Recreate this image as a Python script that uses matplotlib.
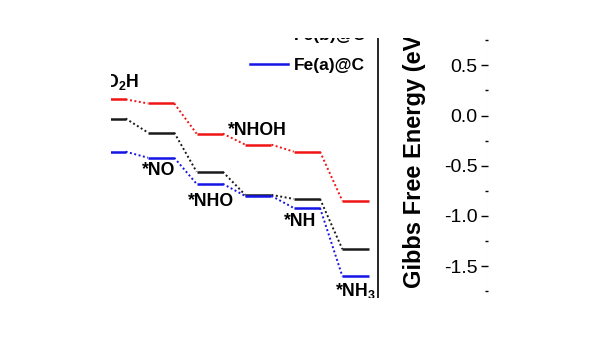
import matplotlib
matplotlib.use('Agg')
import matplotlib.pyplot as plt
import numpy as np
from matplotlib.transforms import Bbox, TransformedBbox
from matplotlib.ticker import MultipleLocator
from matplotlib.lines import Line2D

# ---- data ----
steps = ['*NO$_2$H', '*NO', '*NHO', '*NHOH', '*NH', '*NH$_3$']
series_names = ['Fe(c)@C', 'Fe(b)@C', 'Fe(a)@C']
red_vals = [0.16, 0.12, -0.18, -0.29, -0.36, -0.85]
black_vals = [-0.03, -0.17, -0.56, -0.79, -0.83, -1.33]
blue_vals = [-0.36, -0.42, -0.68, -0.80, -0.92, -1.60]
yticks = [0.5, 0.0, -0.5, -1.0, -1.5]

# ---- layout / style ----
label_x = [0.0, 0.94, 2.03, 2.98, 3.86, 5.01]
label_y = [0.333, -0.552, -0.856, -0.149, -1.05, -1.746]
colors = ['#f01414', '#1a1a1a', '#1414e6']
half_w = 0.27

plt.rcParams['font.family'] = ['Liberation Sans', 'DejaVu Sans']
plt.rcParams['axes.unicode_minus'] = False
plt.rcParams['mathtext.fontset'] = 'custom'
plt.rcParams['mathtext.rm'] = 'Liberation Sans:bold'
plt.rcParams['mathtext.default'] = 'rm'

W, H = 600, 338
fig = plt.figure(figsize=(6, 3.38), dpi=100)

def fx(px):
    return px / W

def fy(py):
    return 1 - py / H

top_px, bot_px = 20, 315
ylim = ((115.5 - bot_px) / 100.5, (115.5 - top_px) / 100.5)

# left panel (mostly cropped)
ax = fig.add_axes([0, fy(bot_px), fx(378), (bot_px - top_px) / H])
ax.set_xlim((0 - 112.5) / 48.6, (378 - 112.5) / 48.6)
ax.set_ylim(*ylim)
ax.set_xticks([])
ax.set_yticks([])
for s in ['left', 'top', 'bottom']:
    ax.spines[s].set_visible(False)
ax.spines['right'].set_linewidth(1.2)

handles = []
for vals, c, name in zip([red_vals, black_vals, blue_vals], colors, series_names):
    x = np.arange(len(vals))
    for i, v in enumerate(vals):
        ax.plot([x[i] - half_w, x[i] + half_w], [v, v], color=c, lw=1.8,
                solid_capstyle='butt')
        if i < len(vals) - 1:
            ax.plot([x[i] + half_w, x[i + 1] - half_w], [v, vals[i + 1]],
                    color=c, lw=1.4, linestyle=(0, (1, 1.3)))
    handles.append(Line2D([], [], color=c, lw=1.8, label=name))

for lab, lx, ly in zip(steps, label_x, label_y):
    ax.text(lx, ly, lab, ha='center', va='center', fontsize=12.7,
            fontweight='bold')

leg = fig.legend(handles=handles, loc='lower left',
                 bbox_to_anchor=(fx(250), fy(73)), frameon=False,
                 prop={'weight': 'bold', 'size': 12.5}, handlelength=2.2,
                 handletextpad=0.3, labelspacing=0.88, borderpad=0,
                 borderaxespad=0)

# right panel (only its y axis visible)
ax2 = fig.add_axes([fx(487.5), fy(bot_px), 0.3, (bot_px - top_px) / H])
ax2.set_ylim(*ylim)
ax2.set_xticks([])
for s in ['right', 'top', 'bottom']:
    ax2.spines[s].set_visible(False)
ax2.spines['left'].set_color('#e4e4e4')
ax2.yaxis.set_major_locator(MultipleLocator(0.5))
ax2.yaxis.set_minor_locator(MultipleLocator(0.25))
ax2.tick_params(axis='y', which='major', length=5, width=1, pad=2,
                labelsize=14, color='black')
ax2.tick_params(axis='y', which='minor', length=2.5, width=1, color='black')
ax2.set_ylabel('Gibbs Free Energy (eV)', fontsize=17, fontweight='bold')
ax2.yaxis.label.set_verticalalignment('center')
ax2.yaxis.set_label_coords((415 - 487.5) / 180, (bot_px - 157) / (bot_px - top_px))

# crop everything to the visible window
fig.canvas.draw()
clip = TransformedBbox(Bbox.from_extents(fx(111), fy(298), fx(488), fy(38)),
                       fig.transFigure)
for art in fig.findobj():
    if art is fig or art is fig.patch:
        continue
    art.set_clip_box(clip)
    art.set_clip_on(True)

fig.savefig('out.png', dpi=100)
